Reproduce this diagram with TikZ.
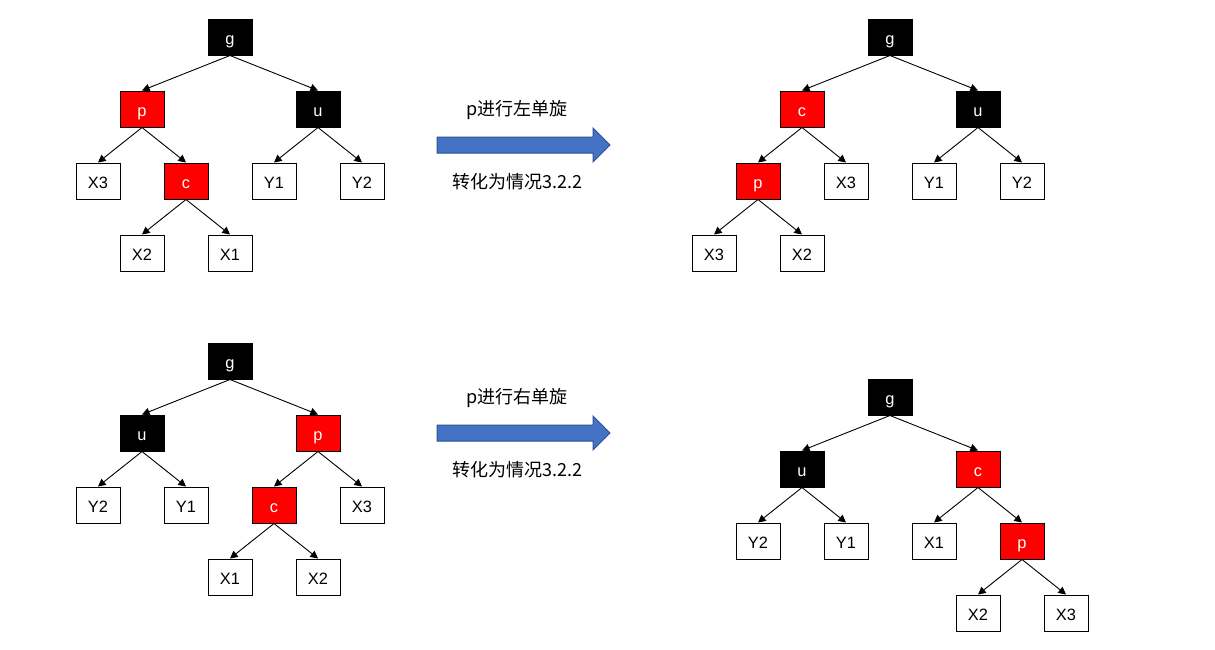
\documentclass[tikz,border=0pt]{standalone}
\usepackage{fontspec}
\setmainfont{Liberation Sans}
\newfontfamily\cjk{Noto Sans CJK SC}
\usepackage{tikz}
\usetikzlibrary{arrows.meta}
\definecolor{rbRed}{RGB}{255,0,0}
\definecolor{rbBlue}{RGB}{68,114,196}
\definecolor{rbBlueEdge}{RGB}{47,82,143}

\begin{document}
\begin{tikzpicture}[x=0.5pt, y=-0.5pt,
  blacknode/.style={draw=black, line width=0.5pt, fill=black, text=white,
                    font=\fontsize{8.2}{10}\selectfont,
                    text height=7.5pt, text depth=0pt,
                    minimum width=22pt, minimum height=18pt, inner sep=0pt},
  rednode/.style={draw=black, line width=0.5pt, fill=rbRed, text=white,
                  font=\fontsize{8.2}{10}\selectfont,
                  text height=7.5pt, text depth=0pt,
                  minimum width=22pt, minimum height=18pt, inner sep=0pt},
  leafnode/.style={draw=black, line width=0.5pt, fill=white, text=black,
                   font=\fontsize{8.2}{10}\selectfont,
                   text height=7.5pt, text depth=0pt,
                   minimum width=22pt, minimum height=18pt, inner sep=0pt},
  edge/.style={-{Triangle[length=3.8pt, width=3.8pt]}, line width=0.45pt, black},
  turnarrow/.style={fill=rbBlue, draw=rbBlueEdge, line width=0.5pt},
  note/.style={font=\cjk\fontsize{9}{11}\selectfont, inner sep=0pt}
]
\useasboundingbox (0,0) rectangle (1215,649);
%% Top left: before
\node[blacknode] (Ag)  at (230,37)  {g};
\node[rednode]   (Ap)  at (142,109) {p};
\node[blacknode] (Au)  at (318,109) {u};
\node[leafnode]  (Ax3) at (98,181)  {X3};
\node[rednode]   (Ac)  at (186,181) {c};
\node[leafnode]  (Ay1) at (274,181) {Y1};
\node[leafnode]  (Ay2) at (362,181) {Y2};
\node[leafnode]  (Ax2) at (142,253) {X2};
\node[leafnode]  (Ax1) at (230,253) {X1};
\draw[edge] (Ag.south) -- (Ap.north);
\draw[edge] (Ag.south) -- (Au.north);
\draw[edge] (Ap.south) -- (Ax3.north);
\draw[edge] (Ap.south) -- (Ac.north);
\draw[edge] (Au.south) -- (Ay1.north);
\draw[edge] (Au.south) -- (Ay2.north);
\draw[edge] (Ac.south) -- (Ax2.north);
\draw[edge] (Ac.south) -- (Ax1.north);
%% Top arrow
\filldraw[turnarrow] (437,137) -- (593,137) -- (593,128) -- (610,145)
  -- (593,162) -- (593,153) -- (437,153) -- cycle;
\node[note] (t1) at (517,110) {p进行左单旋};
\node[note] (t2) at (517,182) {转化为情况3.2.2};
%% Top right: after
\node[blacknode] (Bg)  at (890,37)  {g};
\node[rednode]   (Bc)  at (802,109) {c};
\node[blacknode] (Bu)  at (978,109) {u};
\node[rednode]   (Bp)  at (758,181) {p};
\node[leafnode]  (Bx3) at (846,181) {X3};
\node[leafnode]  (By1) at (934,181) {Y1};
\node[leafnode]  (By2) at (1022,181) {Y2};
\node[leafnode]  (Bx3b) at (714,253) {X3};
\node[leafnode]  (Bx2) at (802,253) {X2};
\draw[edge] (Bg.south) -- (Bc.north);
\draw[edge] (Bg.south) -- (Bu.north);
\draw[edge] (Bc.south) -- (Bp.north);
\draw[edge] (Bc.south) -- (Bx3.north);
\draw[edge] (Bu.south) -- (By1.north);
\draw[edge] (Bu.south) -- (By2.north);
\draw[edge] (Bp.south) -- (Bx3b.north);
\draw[edge] (Bp.south) -- (Bx2.north);
%% Bottom left: before
\node[blacknode] (Cg)  at (230,361) {g};
\node[blacknode] (Cu)  at (142,433) {u};
\node[rednode]   (Cp)  at (318,433) {p};
\node[leafnode]  (Cy2) at (98,505)  {Y2};
\node[leafnode]  (Cy1) at (186,505) {Y1};
\node[rednode]   (Cc)  at (274,505) {c};
\node[leafnode]  (Cx3) at (362,505) {X3};
\node[leafnode]  (Cx1) at (230,577) {X1};
\node[leafnode]  (Cx2) at (318,577) {X2};
\draw[edge] (Cg.south) -- (Cu.north);
\draw[edge] (Cg.south) -- (Cp.north);
\draw[edge] (Cu.south) -- (Cy2.north);
\draw[edge] (Cu.south) -- (Cy1.north);
\draw[edge] (Cp.south) -- (Cc.north);
\draw[edge] (Cp.south) -- (Cx3.north);
\draw[edge] (Cc.south) -- (Cx1.north);
\draw[edge] (Cc.south) -- (Cx2.north);
%% Bottom arrow
\filldraw[turnarrow] (437,425) -- (593,425) -- (593,416) -- (610,433)
  -- (593,450) -- (593,441) -- (437,441) -- cycle;
\node[note] (t3) at (517,398) {p进行右单旋};
\node[note] (t4) at (517,470) {转化为情况3.2.2};
%% Bottom right: after
\node[blacknode] (Dg)  at (890,397) {g};
\node[blacknode] (Du)  at (802,469) {u};
\node[rednode]   (Dc)  at (978,469) {c};
\node[leafnode]  (Dy2) at (758,541) {Y2};
\node[leafnode]  (Dy1) at (846,541) {Y1};
\node[leafnode]  (Dx1) at (934,541) {X1};
\node[rednode]   (Dp)  at (1022,541) {p};
\node[leafnode]  (Dx2) at (978,613) {X2};
\node[leafnode]  (Dx3) at (1066,613) {X3};
\draw[edge] (Dg.south) -- (Du.north);
\draw[edge] (Dg.south) -- (Dc.north);
\draw[edge] (Du.south) -- (Dy2.north);
\draw[edge] (Du.south) -- (Dy1.north);
\draw[edge] (Dc.south) -- (Dx1.north);
\draw[edge] (Dc.south) -- (Dp.north);
\draw[edge] (Dp.south) -- (Dx2.north);
\draw[edge] (Dp.south) -- (Dx3.north);
\end{tikzpicture}
\end{document}
